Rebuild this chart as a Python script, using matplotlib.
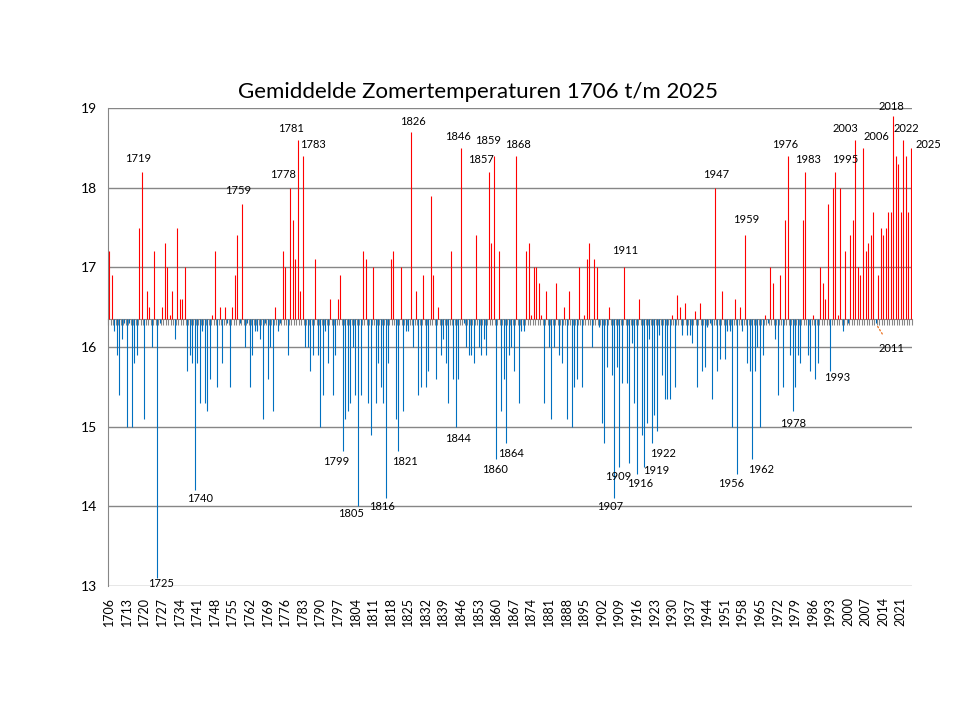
import numpy as np
import matplotlib.pyplot as plt

plt.rcParams['font.family'] = ['Lato', 'DejaVu Sans']

# summer mean temperatures (deg C)
temps_1700s = [17.2, 16.9, 16.2, 15.9, 15.4, 16.1, 16.3, 15.0, 16.3, 15.0,
               15.8, 15.9, 17.5, 18.2, 15.1, 16.7, 16.5, 16.0, 17.2, 13.1,
               16.3, 16.5, 17.3, 17.0, 16.4, 16.7, 16.1, 17.5, 16.6, 16.6,
               17.0, 15.7, 15.9, 15.8, 14.2, 15.8, 15.3, 16.2, 15.3, 15.2,
               15.6, 16.4, 17.2, 15.5, 16.5, 15.8, 16.5, 16.3, 15.5, 16.5,
               16.9, 17.4, 16.3, 17.8, 16.0, 16.3, 15.5, 15.9, 16.2, 16.2,
               16.1, 15.1, 16.3, 15.6, 16.0, 15.2, 16.5, 16.2, 16.3, 17.2,
               17.0, 15.9, 18.0, 17.6, 17.1, 18.6, 16.7, 18.4, 16.0, 16.0,
               15.7, 15.9, 17.1, 15.9, 15.0, 15.4, 16.2, 15.8, 16.6, 15.4,
               15.9, 16.6, 16.9, 14.7]
temps_1800s = [15.1, 15.2, 15.3, 16.0, 15.4, 14.0, 15.4, 17.2, 17.1, 15.3,
               14.9, 17.0, 15.3, 15.8, 15.5, 15.3, 14.1, 15.8, 17.1, 17.2,
               15.1, 14.7, 17.0, 15.2, 16.2, 16.2, 18.7, 16.0, 16.7, 15.4,
               15.5, 16.9, 15.5, 15.7, 17.9, 16.9, 15.6, 16.5, 15.9, 16.1,
               15.8, 15.3, 17.2, 15.6, 15.0, 15.6, 18.5, 16.3, 16.0, 15.9,
               15.9, 15.8, 17.4, 16.0, 15.9, 16.1, 15.9, 18.2, 17.3, 18.4,
               14.6, 17.2, 15.2, 15.6, 14.8, 15.9, 16.0, 15.7, 18.4, 15.3,
               16.2, 16.2, 17.2, 17.3, 16.4, 17.0, 17.0, 16.8, 16.4, 15.3,
               16.7, 16.0, 15.1, 16.0, 16.8, 15.9, 15.8, 16.5, 15.1, 16.7,
               15.0, 15.5, 15.6, 17.0, 15.5, 16.4, 17.1, 17.3, 16.0, 17.1]
temps_1900s = [17.0, 16.25, 15.05, 14.8, 15.75, 16.5, 15.65, 14.1, 15.75, 14.5,
               15.55, 17.0, 15.55, 14.55, 16.05, 15.3, 14.4, 16.6, 14.9, 14.5,
               15.05, 16.1, 14.8, 15.15, 14.95, 16.15, 15.65, 15.35, 15.35, 15.35,
               16.4, 15.5, 16.65, 16.5, 16.15, 16.55, 16.15, 16.15, 16.05, 16.45,
               15.5, 16.55, 15.7, 15.75, 16.25, 16.3, 15.35, 18.0, 15.7, 15.85,
               16.7, 15.85, 16.2, 16.2, 15.0, 16.6, 14.4, 16.5, 16.2, 17.4,
               15.8, 15.7, 14.6, 15.7, 16.0, 15.0, 15.9, 16.4, 16.3, 17.0,
               16.8, 16.1, 15.4, 16.9, 15.5, 17.6, 18.4, 15.9, 15.2, 15.5,
               15.9, 15.8, 17.6, 18.2, 15.9, 15.7, 16.4, 15.6, 15.8, 17.0,
               16.8, 16.6, 17.8, 15.7, 18.0, 18.2, 16.4, 18.0, 16.2, 17.2]
temps_2000s = [16.3, 17.4, 17.6, 18.6, 17.0, 16.9, 18.5, 17.2, 17.3, 17.4,
               17.7, 16.3, 16.9, 17.5, 17.4, 17.5, 17.7, 17.7, 18.9, 18.4,
               18.3, 17.7, 18.6, 18.4, 17.7, 18.5]

labelled_years = [1719, 1725, 1740, 1759, 1778, 1781, 1783, 1799, 1805, 1816,
                  1821, 1826, 1844, 1846, 1857, 1859, 1860, 1864, 1868, 1907,
                  1909, 1911, 1916, 1919, 1922, 1947, 1956, 1959, 1962, 1976,
                  1978, 1983, 1993, 1995, 2003, 2006, 2018, 2022, 2025]

years = np.arange(1706, 2026)
temps = np.array(temps_1700s + temps_1800s + temps_1900s + temps_2000s)
base = 16.35  # where the category axis crosses

# label placement relative to the bar end, in pixels (dx right, dy down)
offsets = {1719: (-3.5, -13), 1725: (4.5, 5), 1740: (5, 8), 1759: (-4.5, -13.6),
           1778: (-7, -12.7), 1781: (-6.5, -11), 1783: (10.5, -11), 1799: (-6.5, 11),
           1805: (-6.5, 7.5), 1816: (-4, 8.5), 1821: (6.5, 11), 1826: (2, -10),
           1844: (2, 12), 1846: (-3, -11), 1857: (-7.5, -12), 1859: (-5.5, -15),
           1860: (-1, 11), 1864: (5, 11), 1868: (2, -11), 1907: (-4.5, 8.5),
           1909: (-1.5, 10), 1911: (0.5, -17), 1916: (3, 9), 1919: (11.5, 4),
           1922: (11, 11), 1947: (1.5, -12.7), 1956: (-6, 9), 1959: (1.5, -15.5),
           1962: (9, 11), 1976: (-3, -11), 1978: (0, 13), 1983: (2.5, -12),
           1993: (6.5, 7), 1995: (9.5, -12), 2003: (-10.5, -11), 2006: (13, -11),
           2018: (-2, -9), 2022: (3, -11), 2025: (17.5, -3)}

grey = '#868686'

fig = plt.figure(figsize=(9.6, 7.2), dpi=100)
ax = fig.add_axes([0.1125, 0.1861, 0.8375, 0.6639])

cols = np.where(temps > base, '#FF0000', '#0070C0')
ax.vlines(years, base, temps, colors=cols, lw=0.8, snap=True, zorder=3)

ax.set_xlim(1705.5, 2025.5)
ax.set_ylim(13, 19)
ax.set_yticks(range(13, 20))
ax.grid(axis='y', color=grey, lw=1)
ax.set_axisbelow(True)
for s in ['top', 'right']:
    ax.spines[s].set_visible(False)
ax.spines['left'].set_color(grey)
ax.spines['bottom'].set_position(('data', base))
ax.spines['bottom'].set_color(grey)
ax.tick_params(axis='y', length=0, labelsize=10, pad=8)
ax.set_xticks(np.arange(1705.5, 2026, 1))
ax.tick_params(axis='x', length=4, color=grey, labelbottom=False)

# year labels sit at the bottom of the plot
sec = ax.secondary_xaxis(0)
sec.set_xticks(range(1706, 2022, 7))
sec.set_xticklabels([str(y) for y in range(1706, 2022, 7)], rotation=90, fontsize=9)
sec.tick_params(length=0, pad=8)
sec.spines['bottom'].set_visible(False)

for y in labelled_years:
    dx, dy = offsets[y]
    v = temps[y - 1706]
    ax.annotate(str(y), xy=(y, v), xytext=(dx, -dy), textcoords='offset pixels',
                ha='center', va='center', fontsize=8, zorder=4)

ax.annotate('2011', xy=(2011, temps[2011 - 1706]), xytext=(15.5, -25),
            textcoords='offset pixels', ha='center', va='center', fontsize=8,
            arrowprops=dict(arrowstyle='-', color='#ED7D31', lw=1, ls=':',
                            shrinkA=5, shrinkB=2))

fig.text(0.498, 1 - 92 / 720, 'Gemiddelde Zomertemperaturen 1706 t/m 2025',
         ha='center', va='center', fontsize=16)

plt.savefig('out.png', dpi=100)
